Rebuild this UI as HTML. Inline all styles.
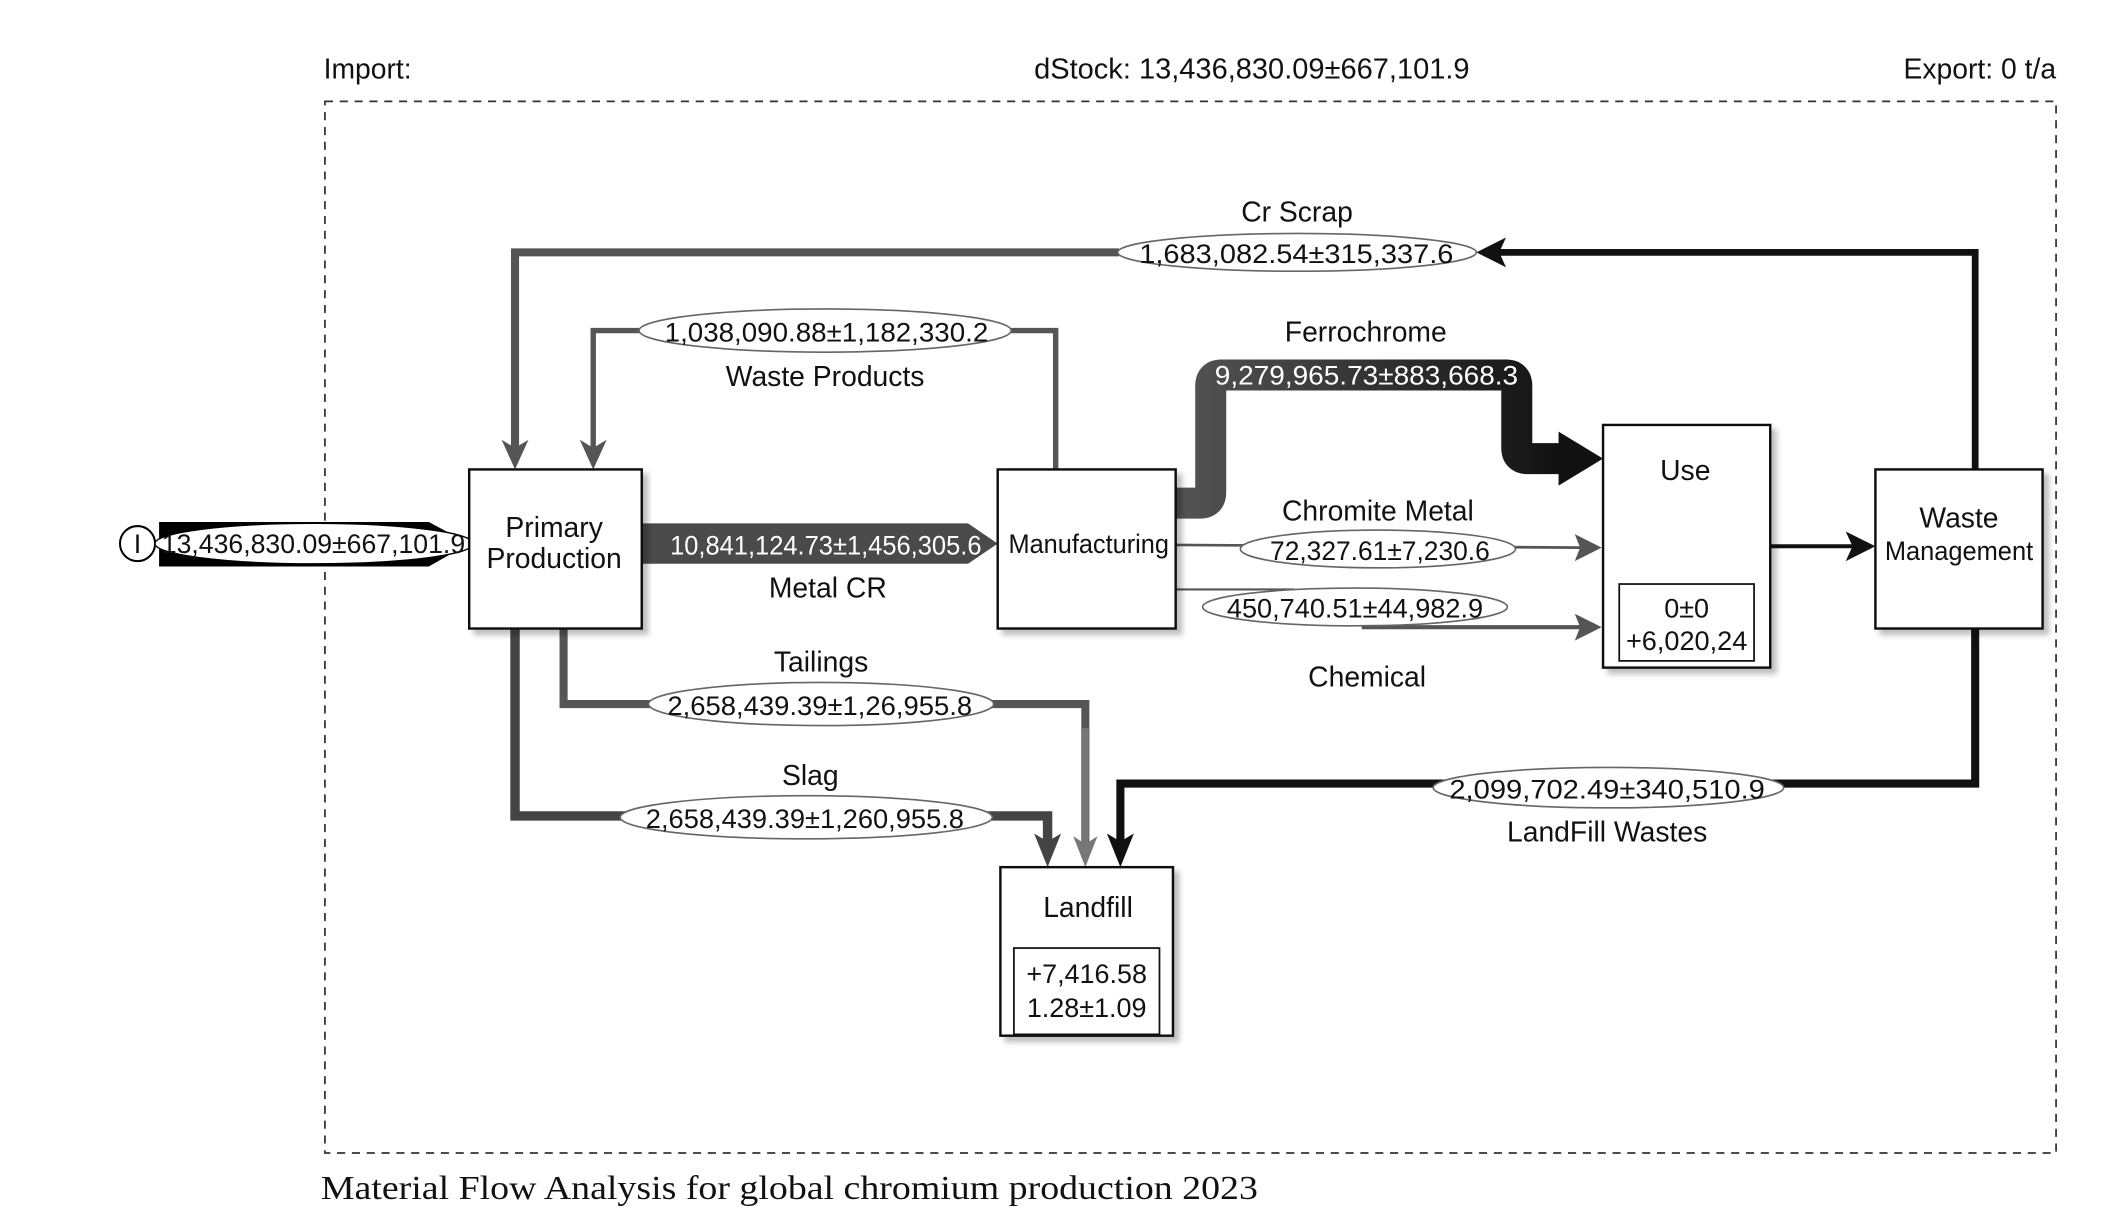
<!DOCTYPE html>
<html><head><meta charset="utf-8"><style>
html,body{margin:0;padding:0;background:#fff;width:2110px;height:1222px;overflow:hidden}
svg{display:block}
text{font-family:"Liberation Sans Narrow","Liberation Sans",sans-serif;fill:#111}
.s{font-size:21px}
.n{font-size:20px}
.w{fill:#fff}
</style></head><body>
<svg width="2110" height="1222" viewBox="0 0 1565 906" xmlns="http://www.w3.org/2000/svg">
<defs>
<linearGradient id="fg" x1="0" x2="1" y1="0" y2="0">
<stop offset="0" stop-color="#555"/><stop offset="1" stop-color="#111"/>
</linearGradient>
<filter id="sh" x="-10%" y="-10%" width="130%" height="130%"><feDropShadow dx="4" dy="4" stdDeviation="2" flood-color="#000" flood-opacity="0.25"/></filter>
</defs>
<rect width="1565" height="906" fill="#fff"/>
<text x="240" y="58" class="s">Import:</text>
<text x="767" y="58" class="s" textLength="323" lengthAdjust="spacingAndGlyphs">dStock: 13,436,830.09±667,101.9</text>
<text x="1525" y="58" class="s" text-anchor="end">Export: 0 t/a</text>
<rect x="241" y="75" width="1284" height="780" fill="none" stroke="#333" stroke-width="1.3" stroke-dasharray="6,5"/>
<text x="238" y="889" style="font-family:'Liberation Serif',serif;font-size:25px" textLength="695" lengthAdjust="spacingAndGlyphs">Material Flow Analysis for global chromium production 2023</text>

<!-- Cr Scrap -->
<polyline points="1465,348 1465,187 1100,187" fill="none" stroke="#111" stroke-width="5"/>
<polygon points="1095,187 1117,176 1112,187 1117,198" fill="#111"/>
<polyline points="830,187 382,187 382,332" fill="none" stroke="#555" stroke-width="6"/>
<polygon points="382,348 372,326 382,332 392,326" fill="#555"/>
<ellipse cx="962" cy="187" rx="133" ry="14" fill="#fff" stroke="#666" stroke-width="1.2"/>
<text x="845" y="195" class="n" textLength="233" lengthAdjust="spacingAndGlyphs">1,683,082.54±315,337.6</text>
<text x="962" y="164" class="s" text-anchor="middle">Cr Scrap</text>

<!-- Waste products -->
<polyline points="783,348 783,245 440,245 440,332" fill="none" stroke="#555" stroke-width="4"/>
<polygon points="440,348 430,326 440,332 450,326" fill="#555"/>
<ellipse cx="612" cy="245" rx="138" ry="16" fill="#fff" stroke="#666" stroke-width="1.2"/>
<text x="493" y="253" class="n" textLength="240" lengthAdjust="spacingAndGlyphs">1,038,090.88±1,182,330.2</text>
<text x="612" y="286" class="s" text-anchor="middle">Waste Products</text>

<!-- Tailings / Slag -->
<polyline points="418,466 418,522 805,522 805,628" fill="none" stroke="#555" stroke-width="6"/>
<polyline points="805,540 805,628" fill="none" stroke="#777" stroke-width="5"/>
<polygon points="805,643 796,620 805,626 814,620" fill="#777"/>
<ellipse cx="609" cy="522" rx="128" ry="16" fill="#fff" stroke="#666" stroke-width="1.2"/>
<text x="495" y="530" class="n" textLength="226" lengthAdjust="spacingAndGlyphs">2,658,439.39±1,26,955.8</text>
<text x="609" y="498" class="s" text-anchor="middle">Tailings</text>
<polyline points="382,466 382,605 777,605 777,628" fill="none" stroke="#444" stroke-width="7"/>
<polygon points="777,643 767,618 777,624 787,618" fill="#444"/>
<ellipse cx="598" cy="606" rx="138" ry="16" fill="#fff" stroke="#666" stroke-width="1.2"/>
<text x="479" y="614" class="n" textLength="236" lengthAdjust="spacingAndGlyphs">2,658,439.39±1,260,955.8</text>
<text x="601" y="582" class="s" text-anchor="middle">Slag</text>

<!-- Landfill wastes -->
<polyline points="1465,466 1465,581 831,581 831,628" fill="none" stroke="#111" stroke-width="6"/>
<polygon points="831,643 821,618 831,624 841,618" fill="#111"/>
<ellipse cx="1193" cy="584" rx="130" ry="15" fill="#fff" stroke="#666" stroke-width="1.2"/>
<text x="1075" y="592" class="n" textLength="234" lengthAdjust="spacingAndGlyphs">2,099,702.49±340,510.9</text>
<text x="1192" y="624" class="s" text-anchor="middle">LandFill Wastes</text>

<!-- Import -->
<polygon points="118,387 318,387 348,403 318,420 118,420" fill="#000"/>
<circle cx="102" cy="403" r="13" fill="#fff" stroke="#000" stroke-width="1.5"/>
<text x="102" y="410" class="n" text-anchor="middle">I</text>
<ellipse cx="233" cy="403" rx="118" ry="15" fill="#fff" stroke="#000" stroke-width="1"/>
<text x="120" y="410" class="n" textLength="225" lengthAdjust="spacingAndGlyphs">13,436,830.09±667,101.9</text>

<!-- Metal CR -->
<polygon points="476,388 718,388 740,403 718,418 476,418" fill="#4a4a4a"/>
<text x="497" y="411" class="n w" textLength="231" lengthAdjust="spacingAndGlyphs">10,841,124.73±1,456,305.6</text>
<text x="614" y="443" class="s" text-anchor="middle">Metal CR</text>

<!-- Ferrochrome -->
<path d="M872,373 L890,373 Q898,373 898,365 L898,286 Q898,278 906,278 L1117,278 Q1125,278 1125,286 L1125,332 Q1125,340 1133,340 L1160,340" fill="none" stroke="url(#fg)" stroke-width="23"/>
<polygon points="1156,320 1189,340 1156,360" fill="#111"/>
<text x="901" y="285" class="n w" textLength="225" lengthAdjust="spacingAndGlyphs">9,279,965.73±883,668.3</text>
<text x="1013" y="253" class="s" text-anchor="middle">Ferrochrome</text>

<!-- Chromite metal -->
<line x1="872" y1="404" x2="1172" y2="406" stroke="#555" stroke-width="2"/>
<polygon points="1188,406 1168,396 1172,406 1168,416" fill="#555"/>
<ellipse cx="1022" cy="407" rx="102" ry="14" fill="#fff" stroke="#666" stroke-width="1.2"/>
<text x="942" y="415" class="n" textLength="163" lengthAdjust="spacingAndGlyphs">72,327.61±7,230.6</text>
<text x="1022" y="386" class="s" text-anchor="middle">Chromite Metal</text>

<!-- Chemical -->
<line x1="872" y1="437" x2="960" y2="437" stroke="#555" stroke-width="1.5"/>
<line x1="1010" y1="465" x2="1172" y2="465" stroke="#555" stroke-width="3"/>
<polygon points="1188,465 1168,455 1172,465 1168,475" fill="#555"/>
<ellipse cx="1005" cy="450" rx="113" ry="14" fill="#fff" stroke="#666" stroke-width="1.2"/>
<text x="910" y="458" class="n" textLength="190" lengthAdjust="spacingAndGlyphs">450,740.51±44,982.9</text>
<text x="1014" y="509" class="s" text-anchor="middle">Chemical</text>

<!-- Use -> WM -->
<line x1="1313" y1="405" x2="1375" y2="405" stroke="#111" stroke-width="3"/>
<polygon points="1391,405 1369,394 1374,405 1369,416" fill="#111"/>

<!-- Boxes -->
<g fill="#fff" stroke="#111" stroke-width="1.8" filter="url(#sh)">
<rect x="348" y="348" width="128" height="118"/>
<rect x="740" y="348" width="132" height="118"/>
<rect x="1189" y="315" width="124" height="180"/>
<rect x="1391" y="348" width="124" height="118"/>
<rect x="742" y="643" width="128" height="125"/>
</g>
<rect x="1201" y="433" width="100" height="57" fill="none" stroke="#111" stroke-width="1.3"/>
<rect x="752" y="703" width="108" height="64" fill="none" stroke="#111" stroke-width="1.3"/>
<text x="411" y="398" class="s" text-anchor="middle">Primary</text>
<text x="411" y="421" class="s" text-anchor="middle">Production</text>
<text x="748" y="410" class="n" textLength="119" lengthAdjust="spacingAndGlyphs">Manufacturing</text>
<text x="1250" y="356" class="s" text-anchor="middle">Use</text>
<text x="1251" y="458" class="n" text-anchor="middle">0±0</text>
<text x="1206" y="482" class="n" textLength="90" lengthAdjust="spacingAndGlyphs">+6,020,24</text>
<text x="1453" y="391" class="s" text-anchor="middle">Waste</text>
<text x="1398" y="415" class="n" textLength="110" lengthAdjust="spacingAndGlyphs">Management</text>
<text x="807" y="680" class="s" text-anchor="middle">Landfill</text>
<text x="806" y="729" class="n" text-anchor="middle">+7,416.58</text>
<text x="806" y="754" class="n" text-anchor="middle">1.28±1.09</text>
</svg>
</body></html>
